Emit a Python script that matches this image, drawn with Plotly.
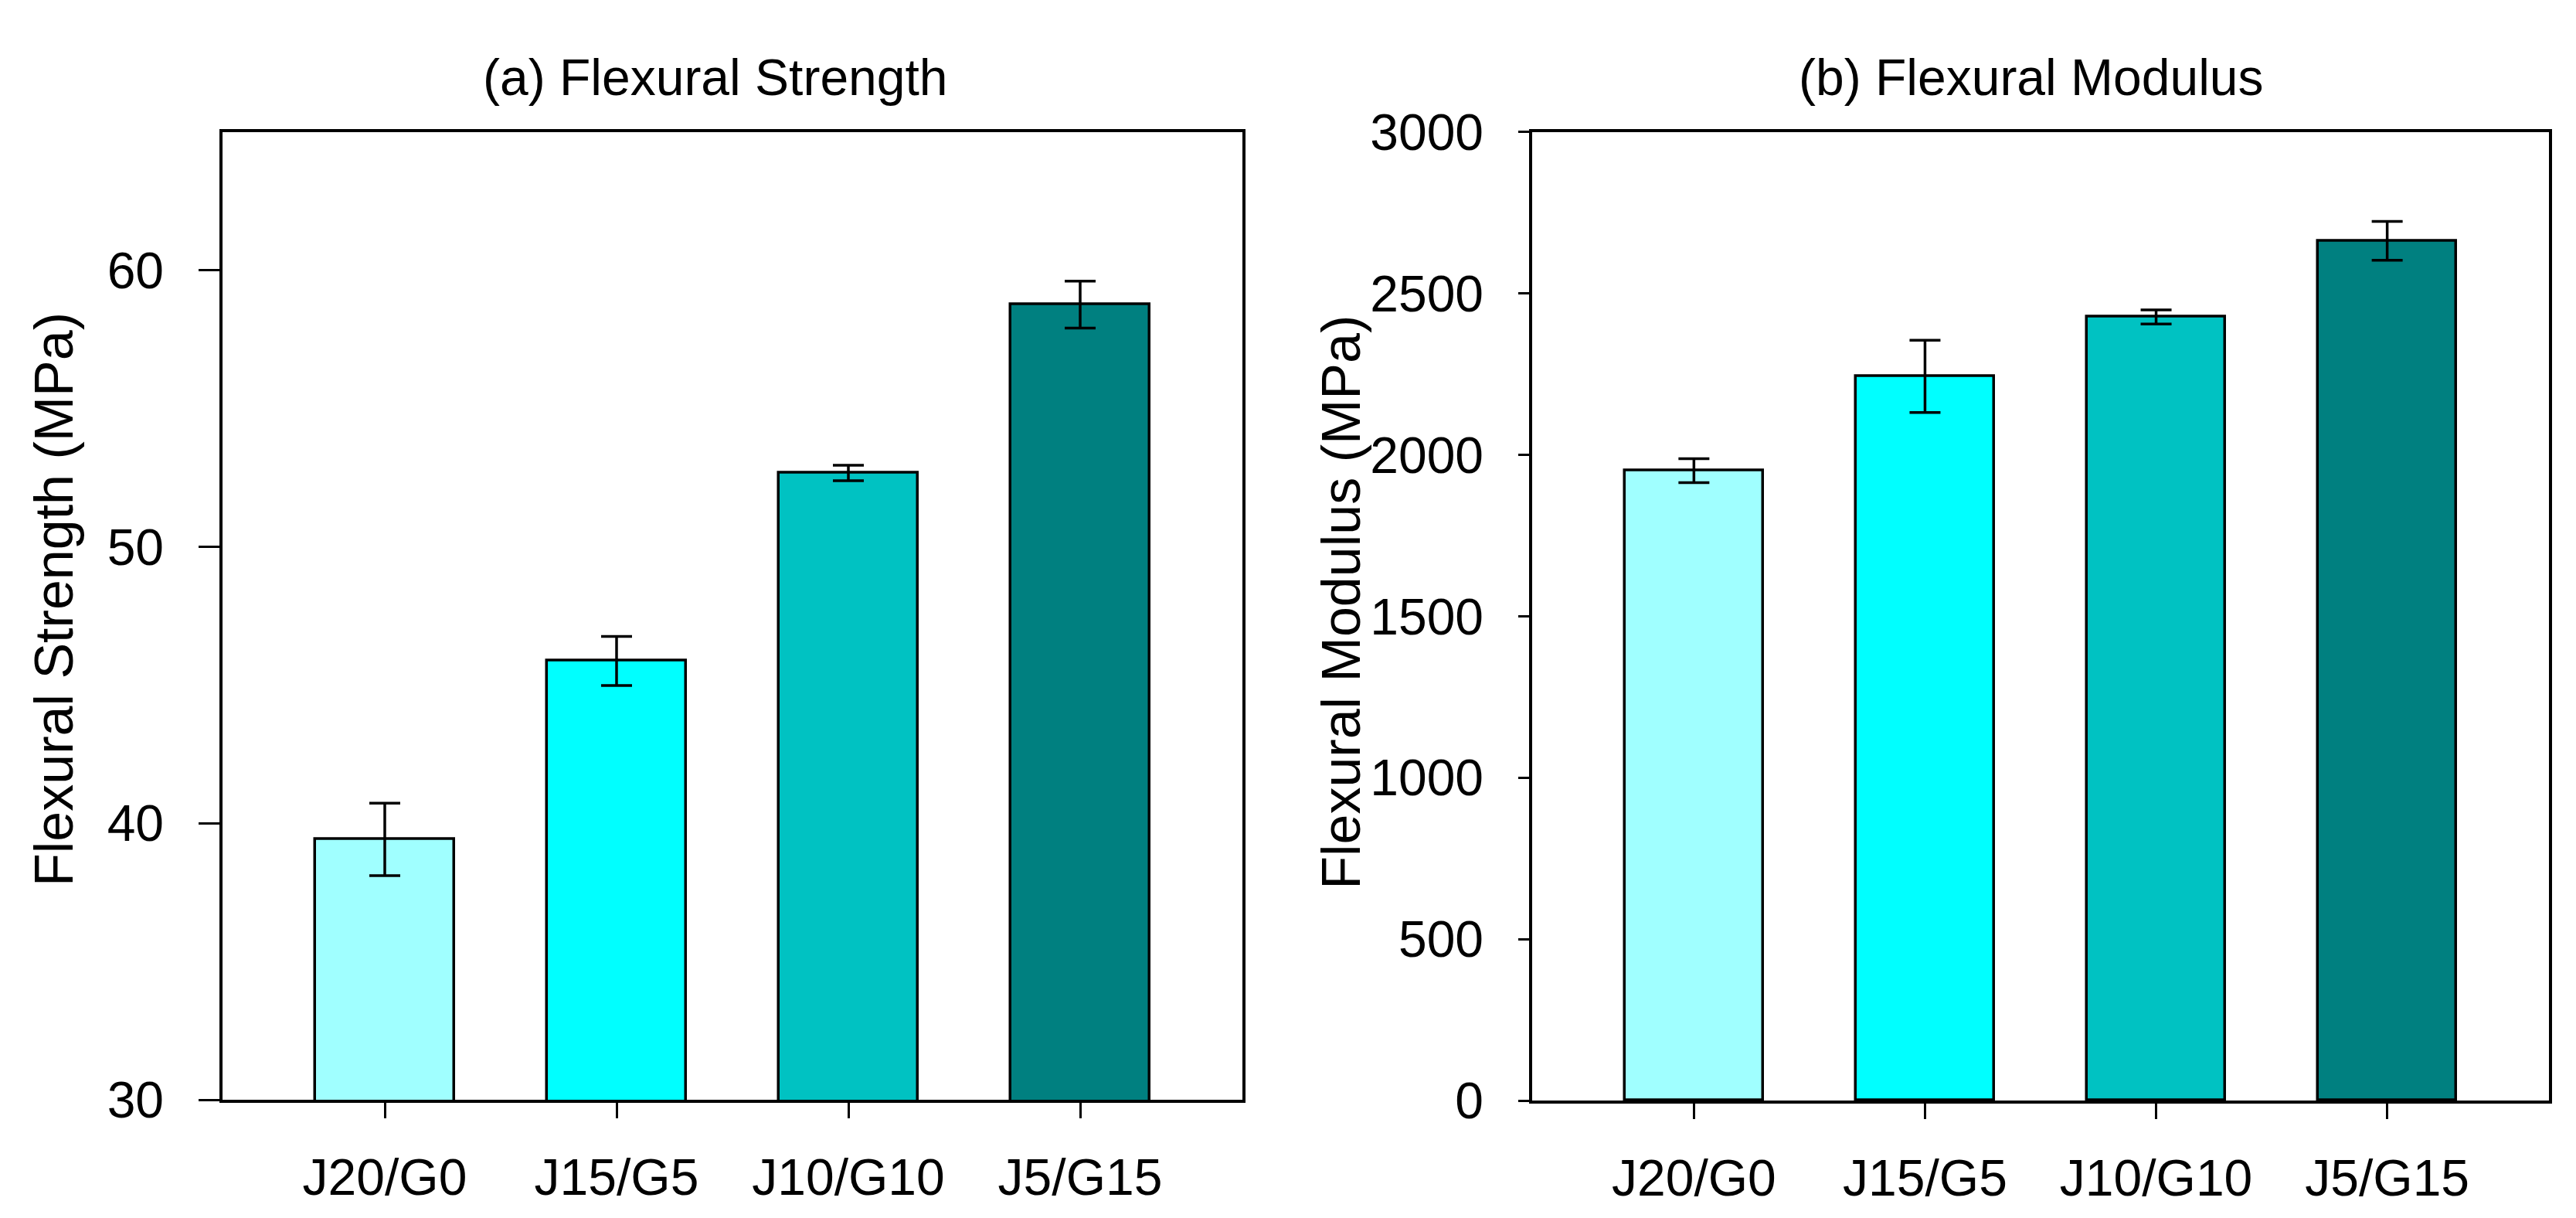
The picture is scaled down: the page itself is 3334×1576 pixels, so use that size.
import plotly.graph_objects as go

W, H = 3334, 1576

categories = ["J20/G0", "J15/G5", "J10/G10", "J5/G15"]
strength = [39.42, 45.87, 52.67, 58.76]
strength_err = [1.31, 0.89, 0.28, 0.85]
modulus = [1951, 2243, 2427, 2663]
modulus_err = [37, 112, 22, 60]
bar_colors = ["#A0FFFF", "#00FFFF", "#00C2C2", "#008080"]
strength_ticks = [30, 40, 50, 60]
modulus_ticks = [0, 500, 1000, 1500, 2000, 2500, 3000]

FONT = "Arial, Liberation Sans, sans-serif"
xpos = list(range(len(categories)))


def px_x(p):
    return p / W


def px_y(p):
    return 1 - p / H


fig = go.Figure()

fig.add_trace(go.Bar(
    x=xpos, y=strength, width=0.6, xaxis="x", yaxis="y",
    marker=dict(color=bar_colors, line=dict(color="black", width=3.5)),
    error_y=dict(type="data", array=strength_err, visible=True,
                 color="black", thickness=3.5, width=20),
    showlegend=False,
))
fig.add_trace(go.Bar(
    x=xpos, y=modulus, width=0.6, xaxis="x2", yaxis="y2",
    marker=dict(color=bar_colors, line=dict(color="black", width=3.5)),
    error_y=dict(type="data", array=modulus_err, visible=True,
                 color="black", thickness=3.5, width=20),
    showlegend=False,
))

axis_common = dict(
    showline=True, linecolor="black", mirror=True,
    showgrid=False, zeroline=False, ticks="outside", tickcolor="black",
    tickwidth=3, tickfont=dict(family=FONT, size=66, color="black"),
)

xaxis_common = dict(axis_common, tickvals=xpos, ticktext=categories,
                    range=[-0.7, 3.7], ticklen=20, ticklabelstandoff=20,
                    linewidth=4)

fig.update_layout(
    width=W, height=H,
    margin=dict(l=0, r=0, t=0, b=0),
    paper_bgcolor="white", plot_bgcolor="white",
    bargap=0,
    xaxis=dict(xaxis_common, domain=[px_x(280), px_x(1600)], anchor="y"),
    yaxis=dict(axis_common, domain=[px_y(1446), px_y(132)], anchor="x",
               range=[30, 65], tickvals=strength_ticks, ticklen=27,
               ticklabelstandoff=32, linewidth=3.5),
    xaxis2=dict(xaxis_common, domain=[px_x(1975), px_x(3291)], anchor="y2"),
    yaxis2=dict(axis_common, domain=[px_y(1447), px_y(132)], anchor="x2",
                range=[0, 3000], tickvals=modulus_ticks, ticklen=14,
                ticklabelstandoff=32, linewidth=3.5),
    annotations=[
        dict(text="(a) Flexural Strength", xref="paper", yref="paper",
             x=px_x(918), y=px_y(58), xanchor="center", yanchor="middle",
             showarrow=False, font=dict(family=FONT, size=66, color="black")),
        dict(text="(b) Flexural Modulus", xref="paper", yref="paper",
             x=px_x(2621), y=px_y(58), xanchor="center", yanchor="middle",
             showarrow=False, font=dict(family=FONT, size=66, color="black")),
        dict(text="Flexural Strength (MPa)", xref="paper", yref="paper",
             x=px_x(62), y=px_y(767), xanchor="center", yanchor="middle",
             textangle=-90, showarrow=False,
             font=dict(family=FONT, size=70, color="black")),
        dict(text="Flexural Modulus (MPa)", xref="paper", yref="paper",
             x=px_x(1728), y=px_y(771), xanchor="center", yanchor="middle",
             textangle=-90, showarrow=False,
             font=dict(family=FONT, size=70, color="black")),
    ],
)

fig.write_html("out.html")
